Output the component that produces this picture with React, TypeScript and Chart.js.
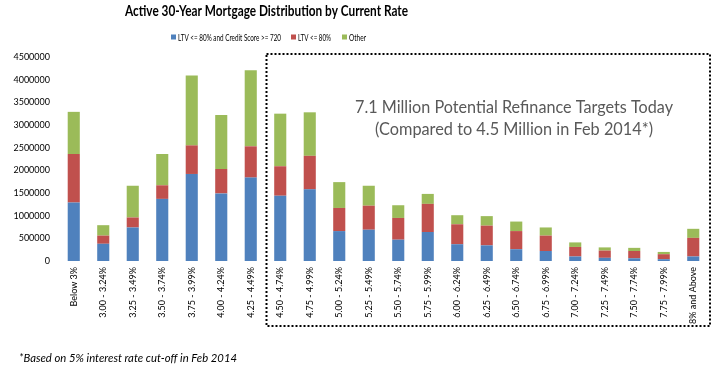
import React, { useEffect, useRef } from "react";
import { Chart, registerables } from "chart.js";

Chart.register(...registerables);

const categories = [
  "Below 3%", "3.00 - 3.24%", "3.25 - 3.49%", "3.50 - 3.74%", "3.75 - 3.99%",
  "4.00 - 4.24%", "4.25 - 4.49%", "4.50 - 4.74%", "4.75 - 4.99%", "5.00 - 5.24%",
  "5.25 - 5.49%", "5.50 - 5.74%", "5.75 - 5.99%", "6.00 - 6.24%", "6.25 - 6.49%",
  "6.50 - 6.74%", "6.75 - 6.99%", "7.00 - 7.24%", "7.25 - 7.49%", "7.50 - 7.74%",
  "7.75 - 7.99%", "8% and Above",
];

const ltvCreditValues = [
  1290000, 380000, 740000, 1370000, 1920000, 1490000, 1840000, 1440000, 1580000, 660000,
  690000, 470000, 640000, 370000, 345000, 260000, 220000, 100000, 70000, 60000, 40000, 100000,
];
const ltvValues = [
  1070000, 180000, 220000, 300000, 630000, 540000, 690000, 650000, 740000, 510000,
  530000, 480000, 620000, 440000, 435000, 400000, 340000, 210000, 160000, 160000, 110000, 410000,
];
const otherValues = [
  930000, 230000, 700000, 690000, 1540000, 1190000, 1680000, 1160000, 960000, 570000,
  440000, 280000, 220000, 200000, 210000, 210000, 180000, 100000, 70000, 70000, 50000, 200000,
];

const seriesNames = ["LTV <= 80% and Credit Score >= 720", "LTV <= 80%", "Other"];
const seriesColors = ["#4F81BD", "#C0504D", "#9BBB59"];

const titleText = "Active 30-Year Mortgage Distribution by Current Rate";
const noteLine1 = "7.1 Million Potential Refinance Targets Today";
const noteLine2 = "(Compared to 4.5 Million in Feb 2014*)";
const footnote = "*Based on 5% interest rate cut-off in Feb 2014";
const FONT = "Lato, 'Open Sans', sans-serif";

function drawText(
  ctx: CanvasRenderingContext2D, text: string, x: number, y: number,
  size: number, style: string, width: number, align: CanvasTextAlign
) {
  ctx.save();
  ctx.font = `${style} ${size}px ${FONT}`;
  const w = ctx.measureText(text).width;
  const sx = width / w;
  ctx.translate(x, y);
  ctx.scale(sx, 1);
  ctx.textAlign = align;
  ctx.textBaseline = "alphabetic";
  ctx.fillText(text, 0, 0);
  ctx.restore();
}

const decorPlugin = {
  id: "decor",
  afterDraw(chart: any) {
    const ctx: CanvasRenderingContext2D = chart.ctx;
    const xs = chart.scales.x;
    ctx.save();
    // title
    ctx.fillStyle = "#000";
    drawText(ctx, titleText, 125, 16, 15, "bold", 283, "left");
    // legend
    const legendX = [171, 291, 342];
    const legendW = [103, 33, 17];
    for (let i = 0; i < 3; i++) {
      ctx.fillStyle = seriesColors[i];
      ctx.fillRect(legendX[i], 34.5, 5, 5);
      ctx.fillStyle = "#000";
      drawText(ctx, seriesNames[i], legendX[i] + 7, 40.5, 9, "", legendW[i], "left");
    }
    // dotted box
    const left = (xs.getPixelForValue(6) + xs.getPixelForValue(7)) / 2 + 1;
    ctx.strokeStyle = "#000";
    ctx.lineWidth = 2;
    ctx.setLineDash([2, 2]);
    ctx.strokeRect(left, 54, 710 - left, 272);
    ctx.setLineDash([]);
    // annotation
    ctx.fillStyle = "#595959";
    drawText(ctx, noteLine1, 514, 113, 16.5, "", 318, "center");
    drawText(ctx, noteLine2, 514, 135, 16.5, "", 278, "center");
    // footnote
    ctx.fillStyle = "#000";
    drawText(ctx, footnote, 19, 361.5, 10.5, "italic", 218, "left");
    ctx.restore();
  },
};

export default function App() {
  const ref = useRef<HTMLCanvasElement>(null);
  useEffect(() => {
    if (!ref.current) return;
    const values = [ltvCreditValues, ltvValues, otherValues];
    const chart = new Chart(ref.current, {
      type: "bar",
      data: {
        labels: categories,
        datasets: values.map((v, i) => ({
          label: seriesNames[i],
          data: v,
          backgroundColor: seriesColors[i],
          barPercentage: 0.41,
          categoryPercentage: 1,
        })),
      },
      options: {
        responsive: false,
        animation: false,
        layout: { padding: { top: 57, right: 5, left: 0, bottom: 0 } },
        plugins: {
          legend: { display: false },
          title: { display: false },
          tooltip: { enabled: false },
        },
        scales: {
          x: {
            stacked: true,
            grid: { display: false, drawTicks: false },
            border: { display: false },
            ticks: {
              autoSkip: false,
              maxRotation: 90,
              minRotation: 90,
              padding: 6,
              color: "#000",
              font: { family: FONT, size: 9 },
            },
            afterFit(scale: any) {
              scale.height = 108;
            },
          },
          y: {
            stacked: true,
            min: 0,
            max: 4500000,
            grid: { display: false, drawTicks: false },
            border: { display: false },
            ticks: {
              stepSize: 500000,
              padding: 9,
              color: "#000",
              font: { family: FONT, size: 9 },
              callback: (v: any) => String(v),
            },
            afterFit(scale: any) {
              scale.width = 59;
            },
          },
        },
      },
      plugins: [decorPlugin],
    });
    return () => chart.destroy();
  }, []);
  return (
    <div style={{ position: "absolute", left: 0, top: 0, width: 713, height: 369, background: "#fff" }}>
      <canvas ref={ref} width={713} height={369} />
    </div>
  );
}
